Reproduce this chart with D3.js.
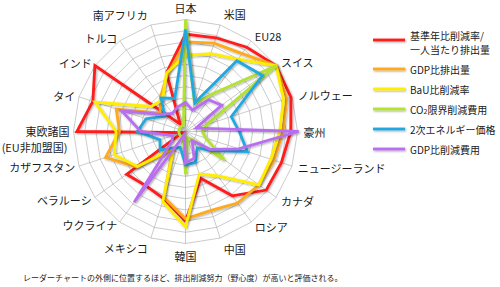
<!DOCTYPE html>
<html>
<head>
<meta charset="utf-8">
<script src="https://cdn.jsdelivr.net/npm/d3@7"></script>
<style>
  body { margin: 0; background: #fff; }
  svg { display: block; font-family: "Noto Sans CJK JP", "Noto Sans", sans-serif; }
</style>
</head>
<body>
<div id="chart"></div>
<script>
// axes, clockwise from the top
const countries = ["日本", "米国", "EU28", "スイス", "ノルウェー", "豪州", "ニュージーランド", "カナダ",
    "ロシア", "中国", "韓国", "メキシコ", "ウクライナ", "ベラルーシ", "カザフスタン", "東欧諸国",
    "タイ", "インド", "トルコ", "南アフリカ"];

// scores (0 = centre, 10 = outer ring)
const perCapita   = [8.7, 8.8, 9.3, 10, 9.9, 9.4, 9.0, 8.9, 7.1, 4.4, 8.0, 6.3, 6.0, 6.5, 0.3, 9.7, 8.7, 10, 0.8, 5.5];
const gdpEmission = [8.0, 8.3, 8.6, 10, 9.5, 8.7, 8.3, 8.1, 7.9, 7.4, 7.8, 6.2, 2.0, 5.4, 7.5, 5.9, 6.5, 2.8, 3.8, 5.3];
const bauRate     = [6.8, 7.3, 8.0, 10, 9.2, 8.4, 8.0, 8.1, 4.9, 4.0, 8.5, 6.6, 1.8, 5.3, 6.7, 6.2, 8.5, 3.8, 3.5, 5.5];
const co2Cost     = [10, 2.6, 4.2, 10, 2.0, 1.5, 1.9, 4.3, 0.8, 0.6, 3.8, 0.6, 0.6, 0.6, 0.6, 0.6, 0.6, 0.6, 0.6, 0.6];
const energyPrice = [9.1, 2.7, 7.8, 8.5, 4.3, 4.8, 5.8, 2.9, 1.8, 2.9, 3.0, 1.5, 1.8, 2.8, 2.4, 4.3, 3.7, 2.3, 3.7, 3.1];
const gdpCost     = [2.6, 2.0, 3.5, 4.0, 1.0, 10.1, 5.0, 2.7, 1.0, 2.5, 2.8, 0.3, 7.8, 1.5, 1.2, 4.0, 6.0, 2.6, 2.0, 2.3];

const seriesNames = [["基準年比削減率/", "一人当たり排出量"], ["GDP比排出量"], ["BaU比削減率"],
    ["CO2限界削減費用"], ["2次エネルギー価格"], ["GDP比削減費用"]];
const seriesValues = [perCapita, gdpEmission, bauRate, co2Cost, energyPrice, gdpCost];
const colors = ["#ff1a1a", "#ffaa1a", "#ffee00", "#b4e233", "#22a8e0", "#b96ef0"];

const width = 500, height = 287;
const cx = 185.5, cy = 131.5, R = 112;
const levels = 10;

const svg = d3.select("#chart").append("svg")
    .attr("width", width)
    .attr("height", height);

// soft shadow under the coloured lines (user space so flat lines keep it)
svg.append("defs").append("filter").attr("id", "shadow")
    .attr("filterUnits", "userSpaceOnUse")
    .attr("x", -300).attr("y", -300).attr("width", 900).attr("height", 900)
    .append("feDropShadow")
    .attr("dx", 1).attr("dy", 1).attr("stdDeviation", 0.8)
    .attr("flood-color", "#000").attr("flood-opacity", 0.35);

const r = d3.scaleLinear().domain([0, levels]).range([0, R]);
const angle = d3.scalePoint().domain(d3.range(countries.length))
    .range([0, 2 * Math.PI * (countries.length - 1) / countries.length]);

const g = svg.append("g").attr("transform", `translate(${cx},${cy})`);

// grid rings (polygons)
const ringLine = d3.lineRadial()
    .angle((d, i) => angle(i))
    .radius(d => r(d))
    .curve(d3.curveLinearClosed);

g.append("g").selectAll("path")
    .data(d3.range(1, levels + 1))
    .join("path")
    .attr("d", lv => ringLine(countries.map(() => lv)))
    .attr("fill", "none")
    .attr("stroke", "#a8a8a8")
    .attr("stroke-width", 0.6);

// spokes
g.append("g").selectAll("line")
    .data(countries)
    .join("line")
    .attr("x1", 0).attr("y1", 0)
    .attr("x2", (d, i) => r(levels) * Math.sin(angle(i)))
    .attr("y2", (d, i) => -r(levels) * Math.cos(angle(i)))
    .attr("stroke", "#a8a8a8")
    .attr("stroke-width", 0.6);

// series
const seriesLine = d3.lineRadial()
    .angle((d, i) => angle(i))
    .radius(d => r(d))
    .curve(d3.curveLinearClosed);

g.append("g").selectAll("path")
    .data(seriesValues)
    .join("path")
    .attr("d", d => seriesLine(d))
    .attr("fill", "none")
    .attr("stroke", (d, i) => colors[i])
    .attr("stroke-width", 2.8)
    .attr("stroke-linejoin", "miter")
    .attr("filter", "url(#shadow)");

// axis labels
g.append("g").selectAll("text")
    .data(countries)
    .join("text")
    .attr("font-size", 11)
    .attr("fill", "#1a1a1a")
    .attr("dominant-baseline", "central")
    .each(function (d, i) {
        const a = angle(i);
        const s = Math.sin(a), c = Math.cos(a);
        let lr = s < -0.1 ? 116 : 118;
        if (Math.abs(c) > 0.95) lr += 6;
        const el = d3.select(this)
            .attr("x", lr * s)
            .attr("y", -lr * c)
            .attr("text-anchor", Math.abs(s) < 0.1 ? "middle" : (s > 0 ? "start" : "end"))
            .text(d);
        if (d === "東欧諸国") {
            el.attr("y", -lr * c - 1);
            d3.select(this.parentNode).append("text")
                .attr("font-size", 11)
                .attr("fill", "#1a1a1a")
                .attr("dominant-baseline", "central")
                .attr("text-anchor", "end")
                .attr("x", lr * s - 2)
                .attr("y", -lr * c + 15)
                .text("(EU非加盟国)");
        }
    });

// legend
const legend = svg.append("g").attr("transform", "translate(373,0)");
const legendY = [40, 69, 89, 109, 129, 149];

const item = legend.selectAll("g")
    .data(seriesNames)
    .join("g")
    .attr("transform", (d, i) => `translate(0,${legendY[i]})`);

item.append("line")
    .attr("x1", 0).attr("x2", 32)
    .attr("stroke", (d, i) => colors[i])
    .attr("stroke-width", 2.8)
    .attr("filter", "url(#shadow)");

item.each(function (d) {
    const grp = d3.select(this);
    if (d.length > 1) {
        d.forEach((line, k) => {
            grp.append("text")
                .attr("x", 37).attr("y", k === 0 ? -5 : 9.8)
                .attr("font-size", 10)
                .attr("fill", "#1a1a1a")
                .attr("dominant-baseline", "central")
                .text(line);
        });
        return;
    }
    const t = grp.append("text")
        .attr("x", 37)
        .attr("font-size", 10)
        .attr("fill", "#1a1a1a")
        .attr("dominant-baseline", "central");
    if (d[0].startsWith("CO2")) {
        t.append("tspan").text("CO");
        t.append("tspan").attr("font-size", 7).attr("dy", 2).text("2");
        t.append("tspan").attr("dy", -2).text(d[0].slice(3));
    } else {
        t.text(d[0]);
    }
});

// footnote
svg.append("text")
    .attr("x", 23)
    .attr("y", 277)
    .attr("font-size", 8)
    .attr("fill", "#1a1a1a")
    .attr("dominant-baseline", "central")
    .text("レーダーチャートの外側に位置するほど、排出削減努力（野心度）が高いと評価される。");
</script>
</body>
</html>
